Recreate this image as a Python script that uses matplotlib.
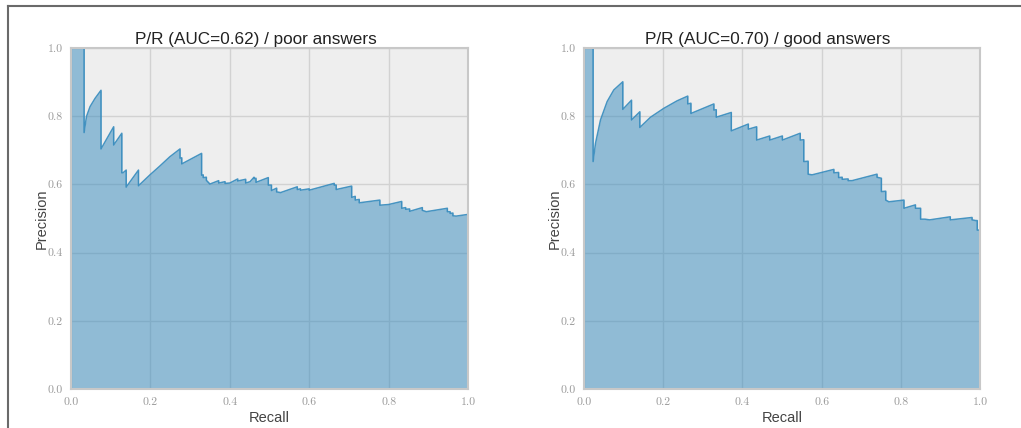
import matplotlib
matplotlib.use("Agg")
import matplotlib.pyplot as plt
from matplotlib.lines import Line2D

# ---- data ----
recall_poor = [0.0, 0.033, 0.033, 0.039, 0.048, 0.0605, 0.0756, 0.0756, 0.1075, 0.1075,
               0.128, 0.128, 0.131, 0.139, 0.139, 0.170, 0.170, 0.199, 0.224, 0.249,
               0.2746, 0.2746, 0.279, 0.279, 0.329, 0.329, 0.333, 0.333, 0.341, 0.341,
               0.350, 0.372, 0.372, 0.388, 0.388, 0.400, 0.420, 0.420, 0.440, 0.440,
               0.451, 0.461, 0.461, 0.466, 0.466, 0.497, 0.497, 0.505, 0.505, 0.518,
               0.518, 0.528, 0.570, 0.570, 0.578, 0.578, 0.600, 0.600, 0.663, 0.663,
               0.668, 0.668, 0.707, 0.707, 0.716, 0.716, 0.726, 0.726, 0.778, 0.778,
               0.800, 0.833, 0.833, 0.843, 0.843, 0.853, 0.853, 0.885, 0.885, 0.895,
               0.948, 0.948, 0.955, 0.955, 0.962, 0.962, 0.970, 1.0]
precision_poor = [1.0, 1.0, 0.752, 0.799, 0.828, 0.852, 0.876, 0.704, 0.769, 0.7155,
                  0.750, 0.634, 0.634, 0.642, 0.592, 0.642, 0.596, 0.628, 0.654, 0.681,
                  0.704, 0.677, 0.678, 0.660, 0.691, 0.627, 0.628, 0.620, 0.621, 0.612,
                  0.601, 0.611, 0.604, 0.608, 0.603, 0.604, 0.616, 0.610, 0.615, 0.604,
                  0.608, 0.621, 0.617, 0.618, 0.606, 0.620, 0.598, 0.598, 0.582, 0.589,
                  0.578, 0.576, 0.593, 0.585, 0.587, 0.583, 0.587, 0.583, 0.603, 0.598,
                  0.598, 0.585, 0.595, 0.562, 0.565, 0.554, 0.556, 0.546, 0.554, 0.539,
                  0.541, 0.550, 0.530, 0.532, 0.527, 0.528, 0.521, 0.532, 0.524, 0.520,
                  0.530, 0.520, 0.520, 0.515, 0.516, 0.508, 0.507, 0.512]

recall_good = [0.0, 0.023, 0.023, 0.029, 0.0417, 0.0585, 0.0753, 0.098, 0.098, 0.120,
               0.120, 0.141, 0.141, 0.168, 0.2015, 0.235, 0.262, 0.262, 0.270, 0.270,
               0.328, 0.328, 0.334, 0.334, 0.372, 0.372, 0.415, 0.415, 0.436, 0.436,
               0.469, 0.469, 0.501, 0.501, 0.546, 0.546, 0.555, 0.555, 0.566, 0.566,
               0.576, 0.631, 0.631, 0.643, 0.643, 0.652, 0.652, 0.667, 0.667, 0.677,
               0.740, 0.740, 0.751, 0.751, 0.762, 0.762, 0.770, 0.808, 0.808, 0.837,
               0.837, 0.850, 0.850, 0.861, 0.873, 0.925, 0.925, 0.980, 0.980, 0.989,
               0.993, 0.993, 1.0]
precision_good = [1.0, 1.0, 0.667, 0.720, 0.789, 0.843, 0.877, 0.901, 0.820, 0.847,
                  0.789, 0.813, 0.767, 0.797, 0.823, 0.845, 0.859, 0.836, 0.838, 0.808,
                  0.836, 0.818, 0.819, 0.797, 0.811, 0.757, 0.777, 0.762, 0.769, 0.730,
                  0.742, 0.730, 0.742, 0.730, 0.750, 0.730, 0.731, 0.667, 0.668, 0.630,
                  0.628, 0.644, 0.634, 0.635, 0.620, 0.621, 0.615, 0.616, 0.611, 0.611,
                  0.630, 0.621, 0.618, 0.579, 0.580, 0.554, 0.549, 0.554, 0.530, 0.540,
                  0.530, 0.530, 0.498, 0.498, 0.496, 0.505, 0.496, 0.503, 0.496, 0.494,
                  0.494, 0.466, 0.466]

titles = ["P/R (AUC=0.62) / poor answers", "P/R (AUC=0.70) / good answers"]
ticks = [0.0, 0.2, 0.4, 0.6, 0.8, 1.0]
tick_labels = ["0.0", "0.2", "0.4", "0.6", "0.8", "1.0"]

# ---- figure ----
fig = plt.figure(figsize=(10.21, 4.28), dpi=100)
W, H = 1021.0, 428.0
ax_boxes = [(71, 389, 397, 341), (584, 389, 396, 341)]
series = [(recall_poor, precision_poor), (recall_good, precision_good)]

line_color = "#348ABD"
for (x0, yb, w, h), (rec, prec), title in zip(ax_boxes, series, titles):
    ax = fig.add_axes([x0 / W, (H - yb) / H, w / W, h / H])
    ax.set_facecolor("#EEEEEE")
    ax.set_axisbelow(True)
    ax.grid(True, color="#D2D2D2", linewidth=1.0, linestyle="-")
    ax.fill_between(rec, prec, 0, color=line_color, alpha=0.5, linewidth=0)
    ax.plot(rec, prec, color=line_color, linewidth=1.1, alpha=0.9)
    ax.set_xlim(0.0, 1.0)
    ax.set_ylim(0.0, 1.0)
    ax.set_xticks(ticks)
    ax.set_yticks(ticks)
    ax.set_xticklabels(tick_labels, family="cmr10", fontsize=8.5, color="#9A9A9A")
    ax.set_yticklabels(tick_labels, family="cmr10", fontsize=8.5, color="#9A9A9A")
    ax.tick_params(axis="both", length=0, pad=6)
    for sp in ax.spines.values():
        sp.set_color("#C8C8C8")
        sp.set_linewidth(1.5)
    ax.set_title(title, family="Liberation Sans", fontsize=12.3, color="#222222", pad=3, x=0.465)
    ax.set_xlabel("Recall", family="Liberation Sans", fontsize=10.5, color="#444444", labelpad=3)
    ax.set_ylabel("Precision", family="Liberation Sans", fontsize=10.5, color="#444444", labelpad=-1)

# outer frame lines (top and left) as in the reference
fig.add_artist(Line2D([7.5 / W, 1.0], [1 - 5.5 / H, 1 - 5.5 / H], color="#6A6A6A", linewidth=1.5,
                      transform=fig.transFigure))
fig.add_artist(Line2D([7.5 / W, 7.5 / W], [0.0, 1 - 5.5 / H], color="#6A6A6A", linewidth=1.5,
                      transform=fig.transFigure))

fig.savefig("out.png", dpi=100)
